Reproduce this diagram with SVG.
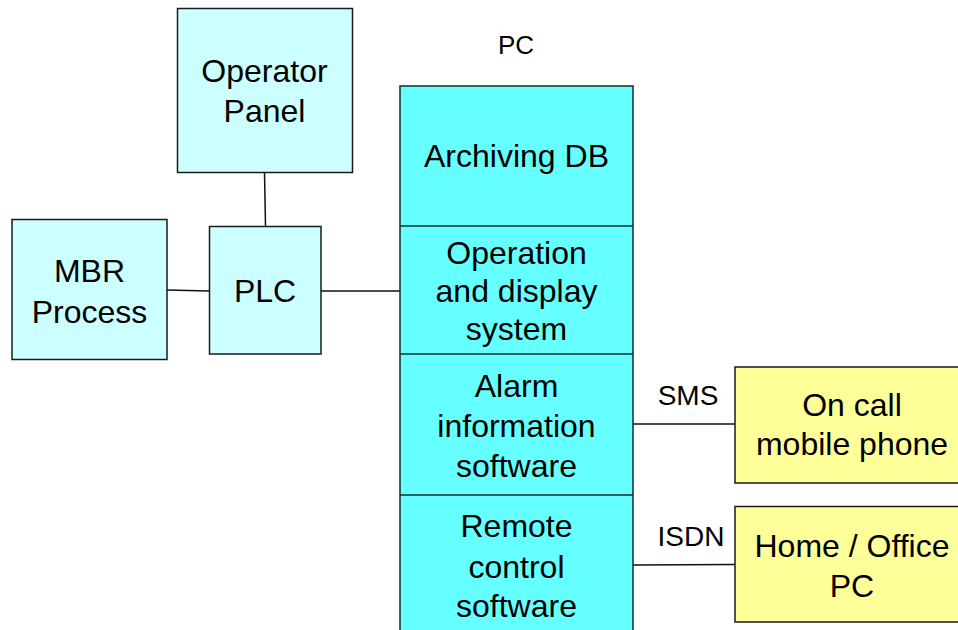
<svg xmlns="http://www.w3.org/2000/svg" width="958" height="630" viewBox="0 0 958 630">
<style>
.lt{fill:#CCFFFF;stroke:#1a1a1a;stroke-width:1.5}
.pc{fill:#66FFFF;stroke:#1a2a2a;stroke-width:1.5}
.yl{fill:#FFFF99;stroke:#1a1a1a;stroke-width:1.5}
.ln{stroke:#111;stroke-width:1.5;fill:none}
text{font-family:"Liberation Sans",Arial,Helvetica,sans-serif;fill:#000;text-anchor:middle}
.t{font-size:32px}
.s{font-size:28px}
</style>
<rect width="958" height="630" fill="#fff"/>
<g id="connectors">
<line class="ln" x1="264.5" y1="172.5" x2="265.5" y2="226"/>
<line class="ln" x1="167" y1="290" x2="209" y2="291"/>
<line class="ln" x1="321" y1="291" x2="400" y2="291"/>
<line class="ln" x1="633" y1="424" x2="735" y2="424"/>
<line class="ln" x1="633" y1="565" x2="735" y2="564.5"/>
<text class="s" x="688" y="405">SMS</text>
<text class="s" x="691" y="546">ISDN</text>
</g>
<g id="operator-panel">
<rect class="lt" x="177.5" y="8.5" width="175" height="164"/>
<text class="t" x="264.5" y="82">Operator</text>
<text class="t" x="264.5" y="122">Panel</text>
</g>
<g id="mbr-process">
<rect class="lt" x="12" y="219.5" width="155" height="140"/>
<text class="t" x="89.5" y="282">MBR</text>
<text class="t" x="89.5" y="323">Process</text>
</g>
<g id="plc">
<rect class="lt" x="209.5" y="226.5" width="111.5" height="127.5"/>
<text class="t" x="265" y="302">PLC</text>
</g>
<g id="pc">
<text x="516" y="54" style="font-size:26px">PC</text>
<rect class="pc" x="400" y="86" width="233" height="560"/>
<line class="pc" x1="400" y1="226" x2="633" y2="226"/>
<line class="pc" x1="400" y1="354" x2="633" y2="354"/>
<line class="pc" x1="400" y1="495" x2="633" y2="495"/>
<text class="t" x="516.5" y="167">Archiving DB</text>
<text class="t" x="516.5" y="264">Operation</text>
<text class="t" x="516.5" y="302">and display</text>
<text class="t" x="516.5" y="340">system</text>
<text class="t" x="516.5" y="397">Alarm</text>
<text class="t" x="516.5" y="437">information</text>
<text class="t" x="516.5" y="477">software</text>
<text class="t" x="516.5" y="537">Remote</text>
<text class="t" x="516.5" y="578">control</text>
<text class="t" x="516.5" y="617">software</text>
</g>
<g id="mobile-phone">
<rect class="yl" x="735" y="367" width="235" height="116"/>
<text class="t" x="852" y="416">On call</text>
<text class="t" x="852" y="455">mobile phone</text>
</g>
<g id="home-office-pc">
<rect class="yl" x="735" y="506.5" width="235" height="115.5"/>
<text class="t" x="852" y="557">Home / Office</text>
<text class="t" x="852" y="597">PC</text>
</g>
</svg>
